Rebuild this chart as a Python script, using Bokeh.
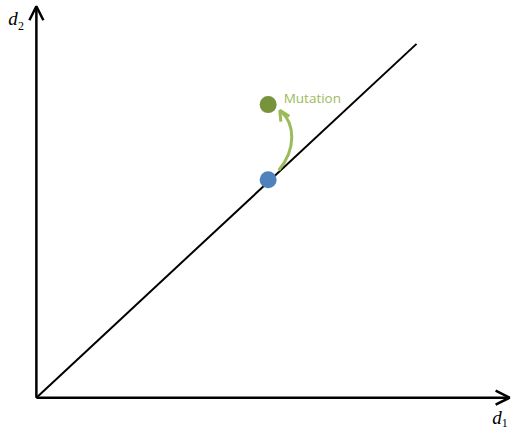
from bokeh.plotting import figure
from bokeh.models import Range1d, Arrow, OpenHead
from bokeh.core.properties import value
from bokeh.embed import file_html
from bokeh.resources import INLINE

# Diagram values (data units ~ reference pixels, origin at axes corner)
diag_x = [0, 392]
diag_y = [0, 367]
point_x = [239, 239]
point_y = [226, 304]
point_colors = ["#4F81BD", "#77933C"]
mut_label = "Mutation"
x_label = "d"
x_sub = "1"
y_label = "d"
y_sub = "2"

p = figure(width=513, height=429, output_backend="svg", toolbar_location=None,
           x_range=Range1d(-37, 492), y_range=Range1d(-33, 412), min_border=0)
p.axis.visible = False
p.grid.visible = False
p.outline_line_color = None
p.background_fill_color = "white"

# axes arrows
p.add_layout(Arrow(end=OpenHead(size=14, line_width=2.5, line_color="black"),
                   x_start=0, y_start=0, x_end=0, y_end=406,
                   line_width=2.5, line_color="black"))
p.add_layout(Arrow(end=OpenHead(size=14, line_width=2.5, line_color="black"),
                   x_start=0, y_start=0, x_end=488, y_end=0,
                   line_width=2.5, line_color="black"))

# diagonal
p.line(diag_x, diag_y, line_width=2, line_color="black")

# mutation curve
g = "#9BBB59"
p.bezier(x0=[250], y0=[236], x1=[252], y1=[297], cx0=[268], cy0=[258], cx1=[267], cy1=[284],
         line_color=g, line_width=3)
p.add_layout(Arrow(end=OpenHead(size=10, line_width=3, line_color=g),
                   x_start=256, y_start=290, x_end=251, y_end=298,
                   line_width=0.01, line_color=g, line_alpha=0))

# points
p.scatter(point_x, point_y, size=17, color=point_colors, line_color=None)

# texts
p.text(x=[255], y=[311], text=[mut_label], text_color=g, text_font=value("Open Sans"),
       text_font_size="13.5px", text_baseline="middle", text_align="left")
p.text(x=[-29], y=[393], text=[y_label], text_font=value("Liberation Serif"),
       text_font_style="italic", text_font_size="19px", text_baseline="middle")
p.text(x=[-19], y=[386], text=[y_sub], text_font=value("Liberation Serif"),
       text_font_size="12px", text_baseline="middle")
p.text(x=[470], y=[-21], text=[x_label], text_font=value("Liberation Serif"),
       text_font_style="italic", text_font_size="19px", text_baseline="middle")
p.text(x=[480], y=[-26], text=[x_sub], text_font=value("Liberation Serif"),
       text_font_size="12px", text_baseline="middle")

open("out.html", "w").write(file_html(p, INLINE))
